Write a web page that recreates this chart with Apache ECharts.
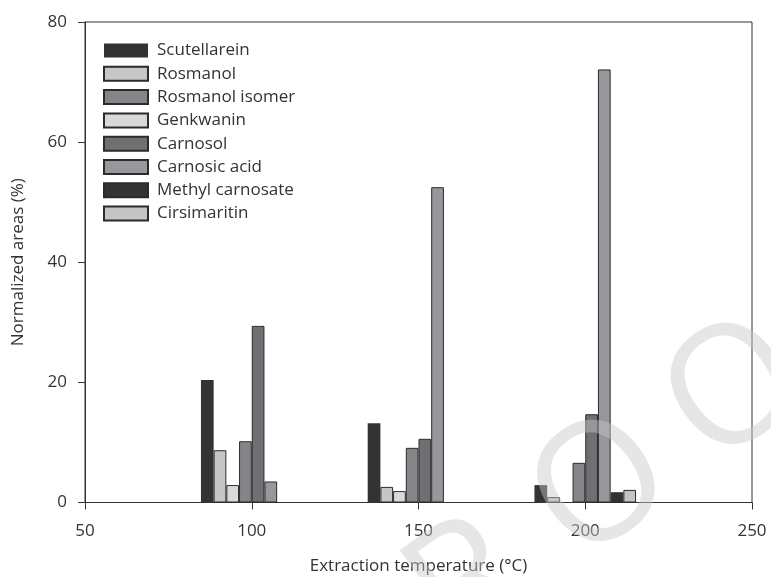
<!DOCTYPE html>
<html>
<head>
<meta charset="utf-8">
<script src="https://cdn.jsdelivr.net/npm/echarts@6/dist/echarts.min.js"></script>
<style>
  html, body { margin: 0; padding: 0; background: #fff; }
  #chart { width: 771px; height: 577px; }
</style>
</head>
<body>
<div id="chart"></div>
<script>
// Extraction temperatures (°C) on the x axis
const temperatures = [100, 150, 200];

// Normalized peak areas (%) per compound at 100, 150 and 200 °C
const scutellarein     = [20.4, 13.2, 2.9];
const rosmanol         = [8.7, 2.6, 0.9];
const genkwanin        = [2.9, 1.9, 0];
const rosmanolIsomer   = [10.2, 9.1, 6.6];
const carnosol         = [29.4, 10.6, 14.7];
const carnosicAcid     = [3.5, 52.5, 72.1];
const methylCarnosate  = [0, 0, 1.7];
const cirsimaritin     = [0, 0, 2.1];

// Order of the legend entries
const legendOrder = ['Scutellarein', 'Rosmanol', 'Rosmanol isomer', 'Genkwanin',
                     'Carnosol', 'Carnosic acid', 'Methyl carnosate', 'Cirsimaritin'];

// Axis ticks
const xTicks = [50, 100, 150, 200, 250];
const yTicks = [0, 20, 40, 60, 80];

// Diagonal stamp across the lower right
const stampLetters = ['P', 'R', 'O', 'O', 'F'];

const FONT = '"Open Sans", "Noto Sans", sans-serif';
const EDGE = '#2b2b2b';

// Series in the order their bars sit inside each temperature cluster
const compounds = [
  { name: 'Scutellarein',     values: scutellarein,    fill: '#333333', border: 0 },
  { name: 'Rosmanol',         values: rosmanol,        fill: '#c6c6c8', border: 1 },
  { name: 'Genkwanin',        values: genkwanin,       fill: '#d9d9db', border: 1 },
  { name: 'Rosmanol isomer',  values: rosmanolIsomer,  fill: '#858589', border: 1 },
  { name: 'Carnosol',         values: carnosol,        fill: '#707074', border: 1 },
  { name: 'Carnosic acid',    values: carnosicAcid,    fill: '#98989c', border: 1 },
  { name: 'Methyl carnosate', values: methylCarnosate, fill: '#333333', border: 1 },
  { name: 'Cirsimaritin',     values: cirsimaritin,    fill: '#c4c4c6', border: 1 }
];

const series = compounds.map(c => ({
  name: c.name,
  type: 'bar',
  barWidth: 12.7,
  barGap: '0%',
  itemStyle: { color: c.fill, borderColor: EDGE, borderWidth: c.border },
  emphasis: { disabled: true },
  data: temperatures.map((t, i) => [t, c.values[i] > 0 ? c.values[i] : '-'])
}));

// Stamp letters laid out along a rising diagonal
const stampAngle = 36 * Math.PI / 180;
const stampStep = 165;
const stampAnchor = { x: 603, y: 490 };   // centre of the first "O"
const stampGraphics = stampLetters.map((ch, i) => {
  const d = (i - 2) * stampStep;
  return {
    type: 'text',
    z: 100,
    silent: true,
    x: stampAnchor.x + d * Math.cos(stampAngle),
    y: stampAnchor.y - d * Math.sin(stampAngle),
    rotation: stampAngle,
    style: {
      text: ch,
      font: '165px "Open Sans", sans-serif',
      fill: 'rgba(200,200,200,0.45)',
      align: 'center',
      verticalAlign: 'middle'
    }
  };
});

const chart = echarts.init(document.getElementById('chart'), null, { renderer: 'canvas' });

chart.setOption({
  animation: false,
  backgroundColor: '#ffffff',
  textStyle: { fontFamily: FONT },
  grid: {
    left: 85, right: 19, top: 22, bottom: 74.5,
    outerBoundsMode: 'none',
    containLabel: false,
    show: true, borderColor: '#333', borderWidth: 1, backgroundColor: 'transparent'
  },
  legend: {
    data: legendOrder,
    orient: 'vertical',
    left: 98,
    top: 37,
    icon: 'rect',
    itemWidth: 44,
    itemHeight: 14,
    itemGap: 6.3,
    selectedMode: false,
    textStyle: { fontFamily: FONT, fontSize: 17, color: '#333', padding: [0, 0, 0, 4] }
  },
  xAxis: {
    type: 'value',
    min: xTicks[0],
    max: xTicks[xTicks.length - 1],
    interval: 50,
    name: 'Extraction temperature (°C)',
    nameLocation: 'middle',
    nameGap: 55,
    nameTextStyle: { fontFamily: FONT, fontSize: 17, color: '#333' },
    axisLine: { lineStyle: { color: '#333', width: 1 } },
    axisTick: { show: true, inside: false, length: 7, lineStyle: { color: '#333' } },
    axisLabel: { fontFamily: FONT, fontSize: 17, color: '#333', margin: 20 },
    splitLine: { show: false }
  },
  yAxis: {
    type: 'value',
    min: yTicks[0],
    max: yTicks[yTicks.length - 1],
    interval: 20,
    name: 'Normalized areas (%)',
    nameLocation: 'middle',
    nameGap: 58,
    nameTextStyle: { fontFamily: FONT, fontSize: 17, color: '#333' },
    axisLine: { show: true, lineStyle: { color: '#333', width: 1 } },
    axisTick: { show: true, inside: false, length: 7, lineStyle: { color: '#333' } },
    axisLabel: { fontFamily: FONT, fontSize: 17, color: '#333', margin: 18 },
    splitLine: { show: false }
  },
  graphic: stampGraphics,
  series: series
});
</script>
</body>
</html>
